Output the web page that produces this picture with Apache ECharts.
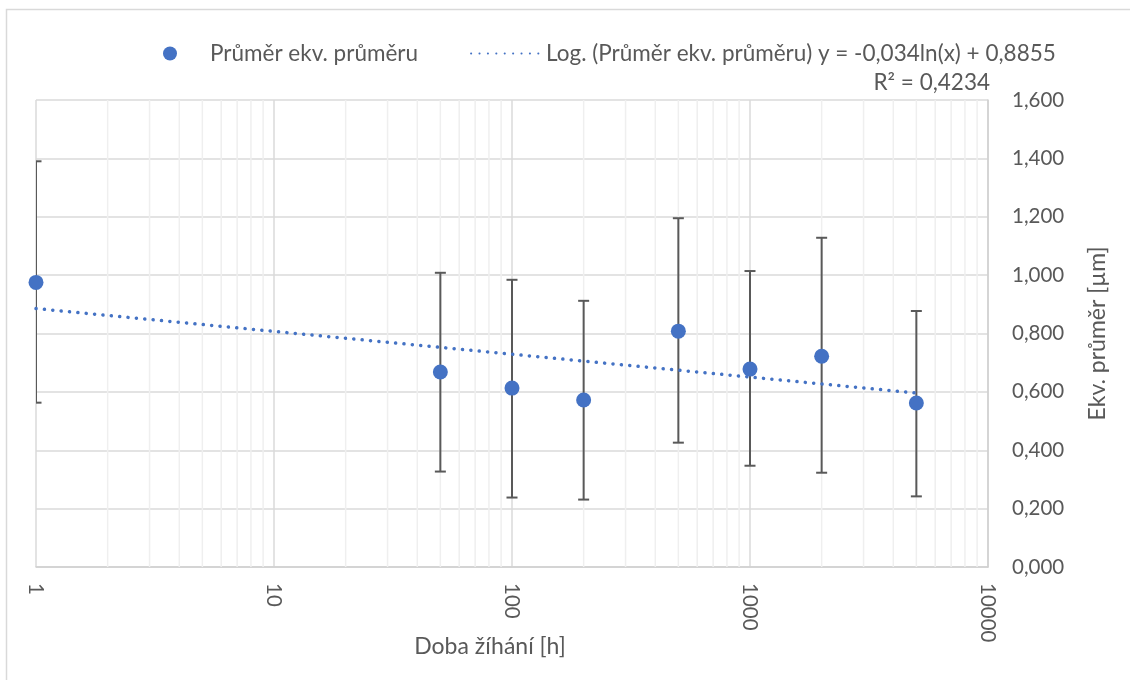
<!DOCTYPE html>
<html>
<head>
<meta charset="utf-8">
<script src="https://cdn.jsdelivr.net/npm/echarts@6/dist/echarts.min.js"></script>
<style>
html,body{margin:0;padding:0;background:#fff;}
#chart{width:1130px;height:680px;}
</style>
</head>
<body>
<div id="chart"></div>
<script>
// Data
const timesH = [1, 50, 100, 200, 500, 1000, 2000, 5000];
const meanDiameter = [0.975, 0.668, 0.613, 0.572, 0.808, 0.678, 0.722, 0.562];
const errLow = [0.563, 0.327, 0.238, 0.231, 0.426, 0.347, 0.323, 0.242];
const errHigh = [1.390, 1.008, 0.984, 0.912, 1.195, 1.014, 1.128, 0.877];
const trendX = [1, 5000];
const trendY = [0.8855, 0.596];
const minorGridX = [2,3,4,5,6,7,8,9,20,30,40,50,60,70,80,90,200,300,400,500,600,700,800,900,2000,3000,4000,5000,6000,7000,8000,9000];
const yTicks = { min: 0, max: 1.6, interval: 0.2 };

const seriesName = 'Průměr ekv. průměru';
const trendName = 'Log. (Průměr ekv. průměru) y = -0,034ln(x) + 0,8855';
const r2Text = 'R² = 0,4234';

const FONT = "Lato, 'Noto Sans', sans-serif";
const FS_TICK = 20.5;
const FS_LEG = 22.5;
const FS_TITLE = 23;
const TXT = '#595959';

const chart = echarts.init(document.getElementById('chart'), null, {renderer: 'canvas'});

const option = {
  animation: false,
  backgroundColor: '#ffffff',
  textStyle: { fontFamily: FONT },
  grid: { left: 36, top: 100, right: 142, bottom: 113, containLabel: false },
  legend: {
    left: 163, top: 42, padding: 0,
    itemWidth: 70, itemHeight: 14, itemGap: 52,
    textStyle: { fontFamily: FONT, fontSize: FS_LEG, color: TXT },
    data: [
      { name: seriesName, icon: 'circle' },
      { name: trendName, itemStyle: { opacity: 0 } }
    ]
  },
  graphic: [
    { type: 'rect', shape: { x: 6.5, y: 9.5, width: 1200, height: 800 }, style: { fill: 'none', stroke: '#d9d9d9', lineWidth: 1.5 }, silent: true, z: -10 },
    { type: 'text', right: 140, top: 71, style: { text: r2Text, font: FS_LEG + "px Lato, 'Noto Sans', sans-serif", fill: TXT, textAlign: 'right' } }
  ],
  xAxis: {
    type: 'log', logBase: 10, min: 1, max: 10000,
    name: 'Doba žíhání [h]', nameLocation: 'middle', nameGap: 68, nameMoveOverlap: false,
    nameTextStyle: { fontFamily: FONT, fontSize: FS_TITLE, color: TXT, padding: [0, 44, 0, 0] },
    axisLine: { show: true, lineStyle: { color: '#d0d0d0', width: 1.5 } },
    axisTick: { show: false },
    axisLabel: { rotate: -90, margin: 16, fontFamily: FONT, fontSize: FS_TICK, color: TXT,
      formatter: v => String(Math.round(v)) },
    splitLine: { show: true, lineStyle: { color: '#dadada', width: 1.5 } }
  },
  yAxis: {
    type: 'value', position: 'right',
    min: yTicks.min, max: yTicks.max, interval: yTicks.interval,
    name: 'Ekv. průměr [µm]', nameLocation: 'middle', nameGap: 98, nameRotate: 90, nameMoveOverlap: false,
    nameTextStyle: { fontFamily: FONT, fontSize: FS_TITLE, color: TXT },
    axisLine: { show: true, lineStyle: { color: '#d0d0d0', width: 1.5 } },
    axisTick: { show: false },
    axisLabel: { margin: 24, fontFamily: FONT, fontSize: FS_TICK, color: TXT,
      formatter: v => v.toFixed(3).replace('.', ',') },
    splitLine: { show: true, lineStyle: { color: '#dadada', width: 1.5 } }
  },
  series: [
    {
      name: 'minorGrid', type: 'custom', silent: true, z: 1, clip: true,
      data: minorGridX.map(v => [v]),
      renderItem: function (params, api) {
        const cs = params.coordSys;
        const p = api.coord([api.value(0), 1]);
        return { type: 'line', shape: { x1: p[0], y1: cs.y, x2: p[0], y2: cs.y + cs.height },
          style: { stroke: '#efefef', lineWidth: 1.5 } };
      }
    },
    {
      name: 'errors', type: 'custom', clip: true, z: 3, silent: true,
      data: timesH.map((t, i) => [t, errLow[i], errHigh[i]]),
      renderItem: function (params, api) {
        const x = api.value(0);
        const lo = api.coord([x, api.value(1)]);
        const hi = api.coord([x, api.value(2)]);
        const cap = 5.5;
        const style = { stroke: '#595959', lineWidth: 2 };
        return {
          type: 'group',
          children: [
            { type: 'line', shape: { x1: lo[0], y1: lo[1], x2: hi[0], y2: hi[1] }, style: style },
            { type: 'line', shape: { x1: hi[0] - cap, y1: hi[1], x2: hi[0] + cap, y2: hi[1] }, style: style },
            { type: 'line', shape: { x1: lo[0] - cap, y1: lo[1], x2: lo[0] + cap, y2: lo[1] }, style: style }
          ]
        };
      }
    },
    {
      name: trendName, type: 'line', z: 4,
      data: trendX.map((x, i) => [x, trendY[i]]),
      showSymbol: false, symbol: 'none',
      lineStyle: { color: '#4472C4', width: 3.5, type: [0.1, 8.3], cap: 'round' },
      itemStyle: { color: '#4472C4' }
    },
    {
      name: seriesName, type: 'scatter', z: 5,
      data: timesH.map((t, i) => [t, meanDiameter[i]]),
      symbol: 'circle', symbolSize: 15,
      itemStyle: { color: '#4472C4', opacity: 1 }
    }
  ]
};
chart.setOption(option);
</script>
</body>
</html>
